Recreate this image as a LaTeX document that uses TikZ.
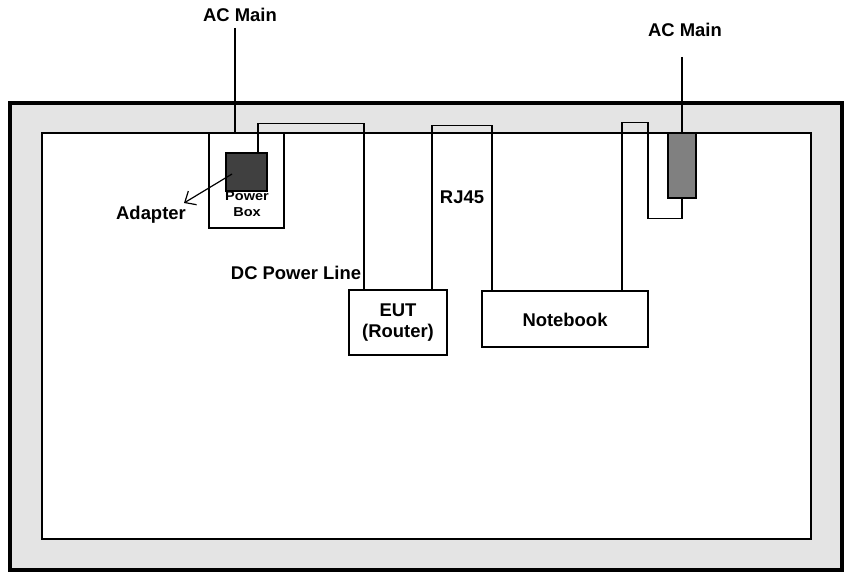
\documentclass[tikz,border=0pt]{standalone}
\usepackage{fontspec}
\setmainfont{Liberation Sans}
\usetikzlibrary{arrows.meta}
\definecolor{roomgray}{HTML}{E4E4E4}
\definecolor{adaptgray}{HTML}{404040}
\definecolor{pluggray}{HTML}{808080}
\begin{document}
\begin{tikzpicture}[x=1bp,y=-1bp,
  lab/.style={font=\fontsize{18.5}{21}\selectfont\bfseries, inner sep=0pt, align=center},
  smalllab/.style={font=\fontsize{13}{16}\selectfont\bfseries, inner sep=0pt, align=center},
  boxr/.style={draw, rectangle, line width=1.2bp, inner sep=0pt, fill=white},
  wire/.style={line width=1.2bp}]
\useasboundingbox (0,0) rectangle (847,574);
% room
\node[draw, rectangle, line width=4bp, fill=roomgray, minimum width=832bp, minimum height=467bp, inner sep=0pt] (room) at (426,336.5) {};
\node[boxr, minimum width=769bp, minimum height=406bp] (inner) at (426.5,336) {};
% power box area
\node[boxr, minimum width=75bp, minimum height=95bp] (pbox) at (246.5,180.5) {};
\node[draw, rectangle, line width=1.2bp, fill=adaptgray, minimum width=41bp, minimum height=38bp, inner sep=0pt] (sq) at (246.5,172) {};
\node[smalllab] (pboxlab) at (247,204) {\scalebox{1.12}[1]{Power}\\\scalebox{1.12}[1]{Box}};
% devices
\node[boxr, minimum width=98bp, minimum height=65bp] (eut) at (398,322.5) {};
\node[lab] (eutlab) at (398,322.5) {EUT\\(Router)};
\node[boxr, minimum width=166bp, minimum height=56bp] (nb) at (565,319) {};
\node[lab] (nblab) at (565,320) {Notebook};
\node[draw, rectangle, line width=2.6bp, fill=pluggray, minimum width=28bp, minimum height=65bp, inner sep=0pt] (plug) at (682,165.5) {};
% labels
\node[lab] (acl) at (240,15) {AC Main};
\node[lab] (acr) at (685,30) {AC Main};
\node[lab] (adlab) at (151,215) {Adapter};
\node[lab] (dclab) at (296,273) {DC Power Line};
\node[lab] (rjlab) at (462,197) {RJ45};
\coordinate (acltop) at (235,28);
\coordinate (acrtop) at (682,57);
\coordinate (adtip) at (184,203);
% wires
\draw[wire] (acltop) -- (acltop |- pbox.north);
\draw[wire] ([xshift=11.5bp]sq.north) -- ++(0,-29) -| ([xshift=-34bp]eut.north);
\draw[wire] ([xshift=34bp]eut.north) -- ++(0,-164) -| ([xshift=-73bp]nb.north);
\draw[wire] ([xshift=57bp]nb.north) -- ++(0,-168) -- ++(26,0) -- ++(0,96) -| (plug.south);
\draw[wire] (acrtop) -- (plug.north);
\draw[wire, -{Straight Barb[length=9bp,width=16bp]}] (232,174) -- (adtip);
\end{tikzpicture}
\end{document}
